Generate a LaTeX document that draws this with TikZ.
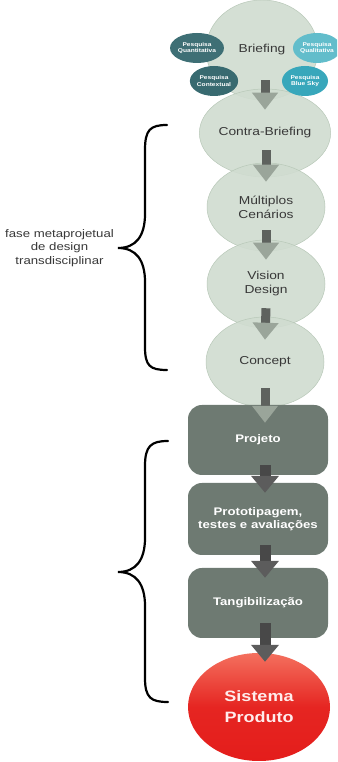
\documentclass[tikz,border=0pt]{standalone}
\usepackage{fontspec}
\setmainfont[FakeStretch=1.2]{Liberation Sans}
\usetikzlibrary{shapes.geometric,arrows.meta,calc}
\definecolor{ell}{HTML}{D0DCD0}
\definecolor{elldraw}{HTML}{B8C8B8}
\definecolor{boxc}{HTML}{6E7A72}
\definecolor{txt}{HTML}{383838}
\definecolor{tealA}{HTML}{3E6F75}
\definecolor{tealB}{HTML}{386A70}
\definecolor{cyanA}{HTML}{62BDCB}
\definecolor{cyanB}{HTML}{38A7BB}
\definecolor{redA}{HTML}{F4705E}
\definecolor{redB}{HTML}{E41D1B}
\definecolor{stemc}{HTML}{5E625E}
\definecolor{headc}{HTML}{9AA59A}
\definecolor{stemd}{HTML}{484848}
\definecolor{headd}{HTML}{5C5C5C}
\tikzset{
  phase/.style={ellipse, fill=ell, fill opacity=0.9, text opacity=1, draw=elldraw, line width=0.5pt,
    inner sep=0pt, minimum width=118pt, minimum height=88pt, text=txt,
    font=\fontsize{11.5}{14}\selectfont, align=center},
  pesq/.style={ellipse, inner sep=0pt, minimum width=48pt, minimum height=30pt, text=white,
    font=\bfseries\fontsize{5.5}{6.5}\selectfont, align=center},
  stage/.style={rectangle, rounded corners=14pt, fill=boxc, minimum width=140pt, inner sep=0pt,
    text=white, font=\bfseries\fontsize{11}{13}\selectfont, align=center},
  flowarrow/.style={line width=9pt, draw=stemc, -{Triangle[width=25pt,length=17pt,color=headc]}},
  darkarrow/.style={line width=11pt, draw=stemd, -{Triangle[width=27pt,length=17pt,color=headd]}},
  bracepath/.style={line width=2.2pt, line cap=round, draw=black},
  sidelabel/.style={font=\fontsize{11}{13.5}\selectfont, align=center, text=txt, inner sep=0pt}
}
\begin{document}
\begin{tikzpicture}[x=1pt,y=1pt]
\useasboundingbox (0,0) rectangle (337,762);
\clip (0,0) rectangle (337,762);
\fill[white] (0,0) rectangle (337,762);

% phase ellipses
\node[phase, minimum width=112pt, minimum height=100pt] (brief) at (262,712) {Briefing};
\node[phase] (contra) at (265,629) {Contra-Briefing};
\node[phase] (mult) at (266,555) {Múltiplos\\Cenários};
\node[phase] (vision) at (266,478) {Vision\\Design};
\node[phase, minimum height=90pt] (concept) at (265,400) {Concept};

% research ellipses
\node[pesq, fill=tealA, minimum width=50pt] (pquant) at (197,714) {Pesquisa\\Quantitativa};
\node[pesq, fill=tealB] (pcont) at (214,681) {Pesquisa\\Contextual};
\node[pesq, fill=cyanA] (pqual) at (317,714) {Pesquisa\\Qualitativa};
\node[pesq, fill=cyanB, minimum width=46pt] (pblue) at (305,681) {Pesquisa\\Blue Sky};

% stage boxes
\node[stage, minimum height=70pt] (projeto) at (258,322) {Projeto};
\node[stage, minimum height=72pt] (proto) at (258,243) {Prototipagem,\\testes e avaliações};
\node[stage, minimum height=70pt] (tang) at (258,159) {Tangibilização};
\node[ellipse, minimum width=142pt, minimum height=108pt, inner sep=0pt,
      top color=redA, bottom color=redB, middle color=redB!90!redA,
      text={rgb,255:red,255;green,236;blue,236}, font=\bfseries\fontsize{15}{21}\selectfont, align=center]
      (sistema) at (259,55) {Sistema\\Produto};

% arrows
\draw[flowarrow] ($(brief.south)+(3,20)$) -- ($(contra.north)+(0,-21)$);
\draw[flowarrow] ($(contra.south)+(1,27)$) -- ($(mult.north)+(0,-19)$);
\draw[flowarrow] ($(mult.south)+(0,21)$) -- ($(vision.north)+(0,-20)$);
\draw[flowarrow] ($(vision.south)+(0,20)$) -- ($(concept.north)+(0,-23)$);
\draw[flowarrow] ($(concept.south)+(0,19)$) -- ($(projeto.north)+(7,-18)$);
\draw[darkarrow] ($(projeto.south)+(7,10)$) -- ($(proto.north)+(7,-10)$);
\draw[darkarrow] ($(proto.south)+(7,10)$) -- ($(tang.north)+(7,-10)$);
\draw[darkarrow] ($(tang.south)+(7,15)$) -- ($(sistema.north)+(6,-9)$);

% braces
\coordinate (b1tip) at (118,514);
\draw[bracepath] (167,637) .. controls (150,637) and (145,632) .. (145,612)
  -- (145,548) .. controls (145,526) and (136,514) .. (b1tip)
  .. controls (136,514) and (145,502) .. (145,480)
  -- (145,415) .. controls (145,396) and (150,392) .. (167,392);
\node[sidelabel, anchor=east] (fase) at ($(b1tip)+(-4,0)$) {fase metaprojetual\\de design\\transdisciplinar};

\coordinate (b2tip) at (118,190);
\draw[bracepath] (168,321) .. controls (151,321) and (145,316) .. (145,296)
  -- (145,224) .. controls (145,202) and (136,190) .. (b2tip)
  .. controls (136,190) and (145,178) .. (145,156)
  -- (145,84) .. controls (145,64) and (151,60) .. (168,60);
\end{tikzpicture}
\end{document}
